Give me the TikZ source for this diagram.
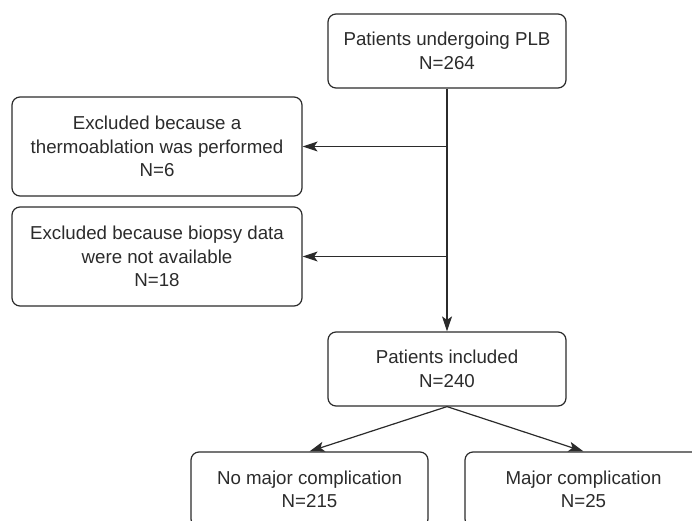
\documentclass[tikz,border=0pt]{standalone}
\usepackage{fontspec}
\setmainfont{Liberation Sans}
\usetikzlibrary{arrows.meta}
\definecolor{flowgray}{HTML}{2B2B2B}
\tikzset{
  flowbox/.style={draw=flowgray,rounded corners=8pt,line width=1.2pt,align=center,text=flowgray,font=\fontsize{18.7}{23.5}\selectfont,inner sep=0pt,minimum height=74pt},
  flowarr/.style={-{Stealth[length=15pt,width=10pt,inset=3.5pt]},line width=1.2pt,draw=flowgray},
  flowline/.style={line width=1.2pt,draw=flowgray}
}

\begin{document}
\begin{tikzpicture}[x=1pt,y=-1pt]
  \useasboundingbox (0,0) rectangle (692,521);
  \clip (0,0) rectangle (692,521);

  \node[flowbox,minimum width=238pt] (plb) at (447,51) {Patients undergoing PLB\\N=264};
  \node[flowbox,minimum width=290pt,minimum height=99pt] (thermo) at (157,146.5) {Excluded because a\\thermoablation was performed\\N=6};
  \node[flowbox,minimum width=290pt,minimum height=99pt] (nodata) at (157,256.5) {Excluded because biopsy data\\were not available\\N=18};
  \node[flowbox,minimum width=238pt] (incl) at (447,369) {Patients included\\N=240};
  \node[flowbox,minimum width=237pt,minimum height=75pt] (nomaj) at (309.5,489.5) {No major complication\\N=215};
  \node[flowbox,minimum width=237pt,minimum height=75pt] (major) at (583.5,489.5) {Major complication\\N=25};

  \draw[flowarr] (plb.south) -- (incl.north);
  \draw[flowarr] (thermo.east -| plb.south) -- (thermo.east);
  \draw[flowarr] (nodata.east -| plb.south) -- (nodata.east);
  \draw[flowarr] (incl.south) -- (nomaj.north);
  \draw[flowarr] (incl.south) -- (major.north);
\end{tikzpicture}
\end{document}
